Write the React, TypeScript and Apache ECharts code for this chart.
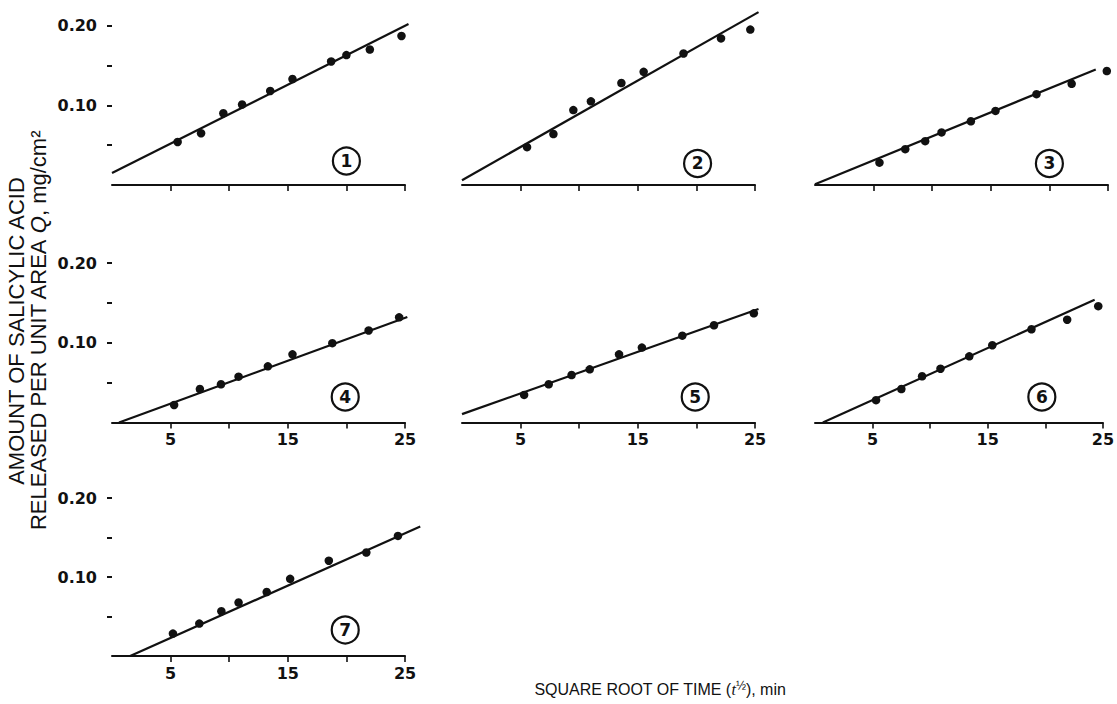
import React, { useEffect, useRef } from "react";
import * as echarts from "echarts";

// ---- data (square root of time, amount Q) ----
const panelNames = ["1", "2", "3", "4", "5", "6", "7"];

const p1X = [5.6, 7.6, 9.5, 11.1, 13.5, 15.4, 18.7, 20.0, 22.0, 24.7];
const p1Y = [0.054, 0.065, 0.09, 0.101, 0.118, 0.133, 0.155, 0.163, 0.17, 0.187];
const p2X = [5.55, 7.8, 9.5, 11.0, 13.6, 15.5, 18.9, 22.1, 24.6];
const p2Y = [0.0475, 0.064, 0.094, 0.105, 0.128, 0.142, 0.165, 0.184, 0.195];
const p3X = [5.5, 7.7, 9.4, 10.8, 13.3, 15.4, 18.9, 21.9, 24.9];
const p3Y = [0.028, 0.045, 0.055, 0.066, 0.08, 0.093, 0.114, 0.127, 0.143];
const p4X = [5.3, 7.5, 9.3, 10.8, 13.3, 15.4, 18.8, 21.9, 24.5];
const p4Y = [0.022, 0.042, 0.048, 0.0575, 0.0705, 0.0855, 0.0996, 0.1155, 0.132];
const p5X = [5.3, 7.4, 9.35, 10.9, 13.4, 15.35, 18.8, 21.5, 24.9];
const p5Y = [0.0346, 0.048, 0.0596, 0.0667, 0.0855, 0.094, 0.109, 0.122, 0.137];
const p6X = [5.3, 7.5, 9.3, 10.9, 13.4, 15.4, 18.8, 21.9, 24.6];
const p6Y = [0.028, 0.042, 0.058, 0.0675, 0.083, 0.097, 0.117, 0.129, 0.146];
const p7X = [5.2, 7.45, 9.33, 10.8, 13.2, 15.2, 18.5, 21.7, 24.4];
const p7Y = [0.0284, 0.041, 0.0567, 0.0677, 0.081, 0.0977, 0.1206, 0.131, 0.152];

// fitted straight lines: [start, end] as [sqrt t, Q]
const fitX = [
  [0, 25.3],
  [0, 25.3],
  [0, 25.1],
  [0.6, 25.2],
  [0, 25.3],
  [0.7, 25.0],
  [1.55, 26.3],
];
const fitY = [
  [0.015, 0.202],
  [0.006, 0.217],
  [0.001, 0.145],
  [0, 0.1325],
  [0.0105, 0.1425],
  [0, 0.154],
  [0, 0.164],
];

const xTicks = [5, 10, 15, 20, 25];
const xTickLabels = [5, 15, 25];
const yTicks = [0.05, 0.1, 0.15, 0.2];
const yTickLabels = [0.1, 0.2];

const allX = [p1X, p2X, p3X, p4X, p5X, p6X, p7X];
const allY = [p1Y, p2Y, p3Y, p4Y, p5Y, p6Y, p7Y];

// badge (circled number) anchor in data coords
const badgeX = [20, 20.1, 20, 19.9, 19.9, 19.7, 19.9];
const badgeY = [0.03, 0.027, 0.027, 0.032, 0.032, 0.032, 0.033];

const INK = "#111111";
const X_MAX = 25;
const X_MAX_FIT = 27;

export default function App() {
  const ref = useRef<HTMLDivElement>(null);

  useEffect(() => {
    if (!ref.current) return;
    const chart = echarts.init(ref.current, undefined, { renderer: "svg" });

    const colLeft = [112, 462, 815];
    const colWidth = 293;
    const rowTop = [9.7, 247.2, 482.2];
    const rowHeight = [175.3, 175.3, 173.8];

    const grids: any[] = [];
    const xAxes: any[] = [];
    const yAxes: any[] = [];
    const series: any[] = [];
    const n = panelNames.length;

    panelNames.forEach((name, i) => {
      const row = Math.floor(i / 3);
      const col = i % 3;
      grids.push({
        left: colLeft[col],
        top: rowTop[row],
        width: colWidth,
        height: rowHeight[row],
      });
      const showXLabels = row >= 1;
      xAxes.push({
        gridIndex: i,
        type: "value",
        min: 0,
        max: X_MAX,
        axisLine: { show: true, onZero: false, lineStyle: { color: INK, width: 2 } },
        axisTick: {
          show: true,
          customValues: xTicks,
          length: 6,
          lineStyle: { color: INK, width: 1.6 },
        },
        axisLabel: {
          show: showXLabels,
          customValues: xTickLabels,
          color: INK,
          fontFamily: "DejaVu Sans",
          fontWeight: "bold",
          fontSize: 16,
          margin: 9,
        },
        splitLine: { show: false },
      });
      const showY = col === 0;
      yAxes.push({
        gridIndex: i,
        type: "value",
        min: 0,
        max: 0.22,
        offset: 2,
        axisLine: { show: false },
        axisTick: {
          show: showY,
          customValues: yTicks,
          length: 5,
          lineStyle: { color: INK, width: 2 },
        },
        axisLabel: {
          show: showY,
          customValues: yTickLabels,
          formatter: (v: number) => v.toFixed(2),
          color: INK,
          fontFamily: "DejaVu Sans",
          fontWeight: "bold",
          fontSize: 16,
          margin: 13,
        },
        splitLine: { show: false },
      });
      series.push({
        type: "scatter",
        xAxisIndex: i,
        yAxisIndex: i,
        data: allX[i].map((x, k) => [x, allY[i][k]]),
        symbol: "circle",
        symbolSize: 8.5,
        itemStyle: { color: INK, opacity: 1 },
        z: 3,
      });
      series.push({
        type: "scatter",
        xAxisIndex: i,
        yAxisIndex: i,
        data: [[badgeX[i], badgeY[i]]],
        symbol: "circle",
        symbolSize: 27,
        itemStyle: { color: "#ffffff", borderColor: INK, borderWidth: 2.2, opacity: 1 },
        label: {
          show: true,
          position: "inside",
          formatter: name,
          color: INK,
          fontFamily: "DejaVu Sans",
          fontWeight: "bold",
          fontSize: 17,
        },
        silent: true,
        z: 4,
      });
    });

    // overlay grids (same scale, wider x range) so fitted lines may run past x = 25
    panelNames.forEach((_, i) => {
      const row = Math.floor(i / 3);
      const col = i % 3;
      const gi = n + i;
      grids.push({
        left: colLeft[col],
        top: rowTop[row],
        width: (colWidth * X_MAX_FIT) / X_MAX,
        height: rowHeight[row],
      });
      xAxes.push({ gridIndex: gi, type: "value", min: 0, max: X_MAX_FIT, show: false });
      yAxes.push({ gridIndex: gi, type: "value", min: 0, max: 0.22, show: false });
      series.push({
        type: "line",
        xAxisIndex: gi,
        yAxisIndex: gi,
        data: [
          [fitX[i][0], fitY[i][0]],
          [fitX[i][1], fitY[i][1]],
        ],
        symbol: "none",
        silent: true,
        lineStyle: { color: INK, width: 2.2 },
        z: 2,
      });
    });

    chart.setOption({
      animation: false,
      backgroundColor: "#ffffff",
      grid: grids,
      xAxis: xAxes,
      yAxis: yAxes,
      series,
      graphic: [
        {
          type: "text",
          x: 16,
          y: 331,
          rotation: Math.PI / 2,
          style: {
            text: "AMOUNT OF SALICYLIC ACID",
            fill: INK,
            font: '22px "Liberation Sans", Arial, sans-serif',
            textAlign: "center",
            textVerticalAlign: "middle",
          },
        },
        {
          type: "text",
          x: 38,
          y: 331,
          rotation: Math.PI / 2,
          style: {
            text: "RELEASED PER UNIT AREA {q|Q}, mg/cm²",
            fill: INK,
            font: '22px "Liberation Sans", Arial, sans-serif',
            textAlign: "center",
            textVerticalAlign: "middle",
            rich: {
              q: {
                fontStyle: "italic",
                fontSize: 22,
                fontFamily: "Liberation Sans",
                fill: INK,
              },
            },
          },
        },
        {
          type: "text",
          x: 660,
          y: 689,
          style: {
            text: "SQUARE ROOT OF TIME ({t|t}{s|½}), min",
            fill: INK,
            font: '16px "Liberation Sans", Arial, sans-serif',
            textAlign: "center",
            textVerticalAlign: "middle",
            rich: {
              t: { fontStyle: "italic", fontSize: 16, fontFamily: "Liberation Serif", fill: INK },
              s: { fontSize: 12, fontFamily: "Liberation Sans", verticalAlign: "top", padding: [0, 0, 6, 0], fill: INK },
            },
          },
        },
      ],
    });

    return () => chart.dispose();
  }, []);

  return (
    <div
      ref={ref}
      style={{ position: "absolute", left: 0, top: 0, width: 1117, height: 704, background: "#fff" }}
    />
  );
}
